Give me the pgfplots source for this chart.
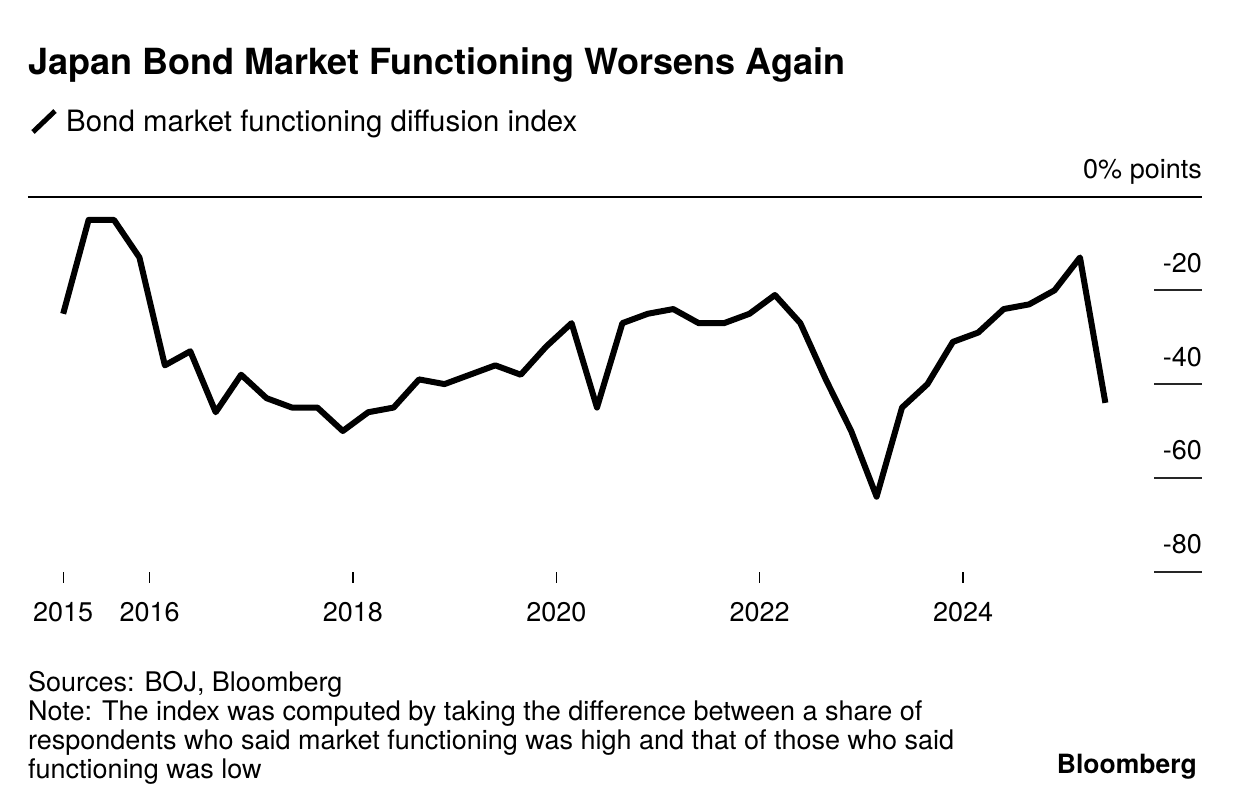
\documentclass[border=0pt]{standalone}
\usepackage{pgfplots}
\pgfplotsset{compat=1.18}
\usepackage{fontspec}
\setmainfont{TeX Gyre Heros}

% BOJ bond market survey, functioning DI (quarterly, Feb 2015 - May 2025)
\pgfplotstableread{
x        y
2015.15  -25
2015.40  -5
2015.65  -5
2015.90  -13
2016.15  -36
2016.40  -33
2016.65  -46
2016.90  -38
2017.15  -43
2017.40  -45
2017.65  -45
2017.90  -50
2018.15  -46
2018.40  -45
2018.65  -39
2018.90  -40
2019.15  -38
2019.40  -36
2019.65  -38
2019.90  -32
2020.15  -27
2020.40  -45
2020.65  -27
2020.90  -25
2021.15  -24
2021.40  -27
2021.65  -27
2021.90  -25
2022.15  -21
2022.40  -27
2022.65  -39
2022.90  -50
2023.15  -64
2023.40  -45
2023.65  -40
2023.90  -31
2024.15  -29
2024.40  -24
2024.65  -23
2024.90  -20
2025.15  -13
2025.40  -44
}\bonddi

\begin{document}
\begin{tikzpicture}
\useasboundingbox (0,0) rectangle (1236pt,-810pt);

\node[anchor=base west, inner sep=0pt, font=\fontsize{36}{43}\selectfont\bfseries]
  at (28pt,-75pt) {Japan Bond Market Functioning Worsens Again};
\draw[line width=5pt] (33pt,-132pt) -- (55pt,-111pt);
\node[anchor=base west, inner sep=0pt, font=\fontsize{29.4}{35}\selectfont]
  at (66pt,-132pt) {Bond market functioning diffusion index};

\begin{axis}[
  at={(28pt,-571.7pt)}, anchor=south west,
  scale only axis, width=1174pt, height=375.2pt,
  xmin=2014.804, xmax=2026.35, ymin=-80, ymax=0,
  axis line style={draw=none},
  clip=false,
  xtick={2015.15,2016,2018,2020,2022,2024},
  xticklabels={2015,2016,2018,2020,2022,2024},
  xtick pos=bottom, xtick align=outside,
  xtick style={black, line width=1.2pt, /pgfplots/major tick length=11pt},
  ytick={-80,-60,-40,-20,0},
  yticklabels={-80,-60,-40,-20,0\% points},
  ytick pos=right, ytick align=inside,
  ytick style={black!85, line width=1.8pt, /pgfplots/major tick length=48pt},
  yticklabel pos=right,
  ticklabel style={font=\fontsize{27}{32}\selectfont, inner sep=0pt},
  yticklabel style={anchor=base east, yshift=18pt},
  xticklabel style={anchor=base, yshift=-46pt},
]
\draw[line width=2pt] (rel axis cs:0,1) -- (rel axis cs:1,1);
\addplot[black, line width=6pt, line join=round] table[x=x, y=y] {\bonddi};
\end{axis}

\begin{scope}[every node/.style={anchor=base west, inner sep=0pt, font=\fontsize{27}{29}\selectfont}]
\node at (28pt,-691pt) {Sources: BOJ, Bloomberg};
\node at (28pt,-720pt) {Note: The index was computed by taking the difference between a share of};
\node at (28pt,-749pt) {respondents who said market functioning was high and that of those who said};
\node at (28pt,-778pt) {functioning was low};
\end{scope}
\node[anchor=base east, inner sep=0pt, font=\fontsize{26.5}{31}\selectfont\bfseries]
  at (1197pt,-773pt) {Bloomberg};
\end{tikzpicture}
\end{document}
